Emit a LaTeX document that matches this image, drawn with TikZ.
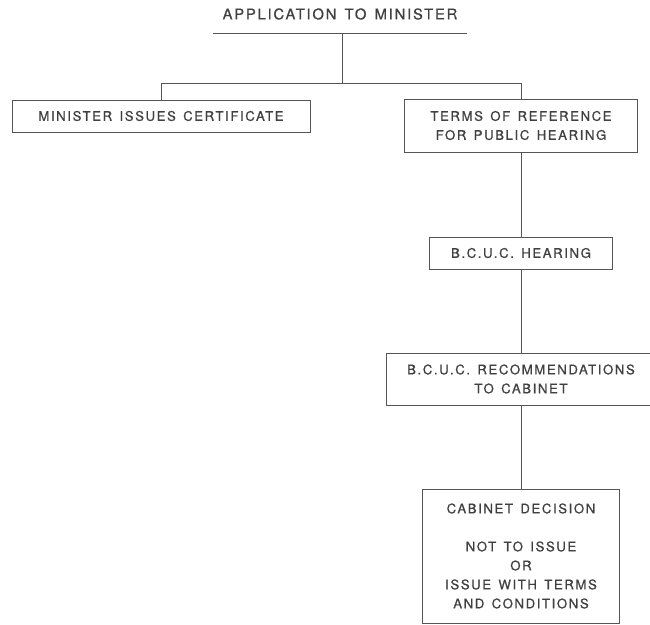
\documentclass[tikz,border=0pt]{standalone}
\usepackage{fontspec}
\newfontfamily\lsfont[LetterSpace=12,WordSpace=1.4,FakeBold=0.7]{TeX Gyre Heros}
\definecolor{ink}{HTML}{404040}
\definecolor{rule}{HTML}{555555}
\begin{document}
\begin{tikzpicture}[x=1pt,y=-1pt,
  every node/.style={text=ink,font=\lsfont\fontsize{13.2}{19}\selectfont,align=center,inner sep=0pt},
  box/.style={draw=rule,line width=0.9pt},
  conn/.style={draw=rule,line width=0.9pt}]
\clip (0,0) rectangle (650,624);
\node[font=\lsfont\fontsize{14.8}{16}\selectfont] (title) at (340,14) {APPLICATION TO MINISTER};
\coordinate (ul1) at (213,33);
\coordinate (ul2) at (467,33);
\draw[conn] (ul1) -- (ul2);
\coordinate (top) at (342,33);
\coordinate (split) at (342,83);
\node[box,minimum width=298,minimum height=32] (cert) at (161,116) {MINISTER ISSUES CERTIFICATE};
\node[box,minimum width=233,minimum height=53] (terms) at (521,125.5) {TERMS OF REFERENCE\\FOR PUBLIC HEARING};
\node[box,minimum width=183,minimum height=32] (hear) at (521,253) {B.C.U.C. HEARING};
\node[box,minimum width=270,minimum height=52] (rec) at (521,379) {B.C.U.C. RECOMMENDATIONS\\TO CABINET};
\node[box,minimum width=197,minimum height=134] (cab) at (521,556) {CABINET DECISION\\[19pt]NOT TO ISSUE\\OR\\ISSUE WITH TERMS\\AND CONDITIONS};
\draw[conn] (top) -- (split);
\draw[conn] (cert.north) -- (cert.north |- split) -- (terms.north |- split) -- (terms.north);
\draw[conn] (terms.south) -- (hear.north);
\draw[conn] (hear.south) -- (rec.north);
\draw[conn] (rec.south) -- (cab.north);
\end{tikzpicture}
\end{document}
